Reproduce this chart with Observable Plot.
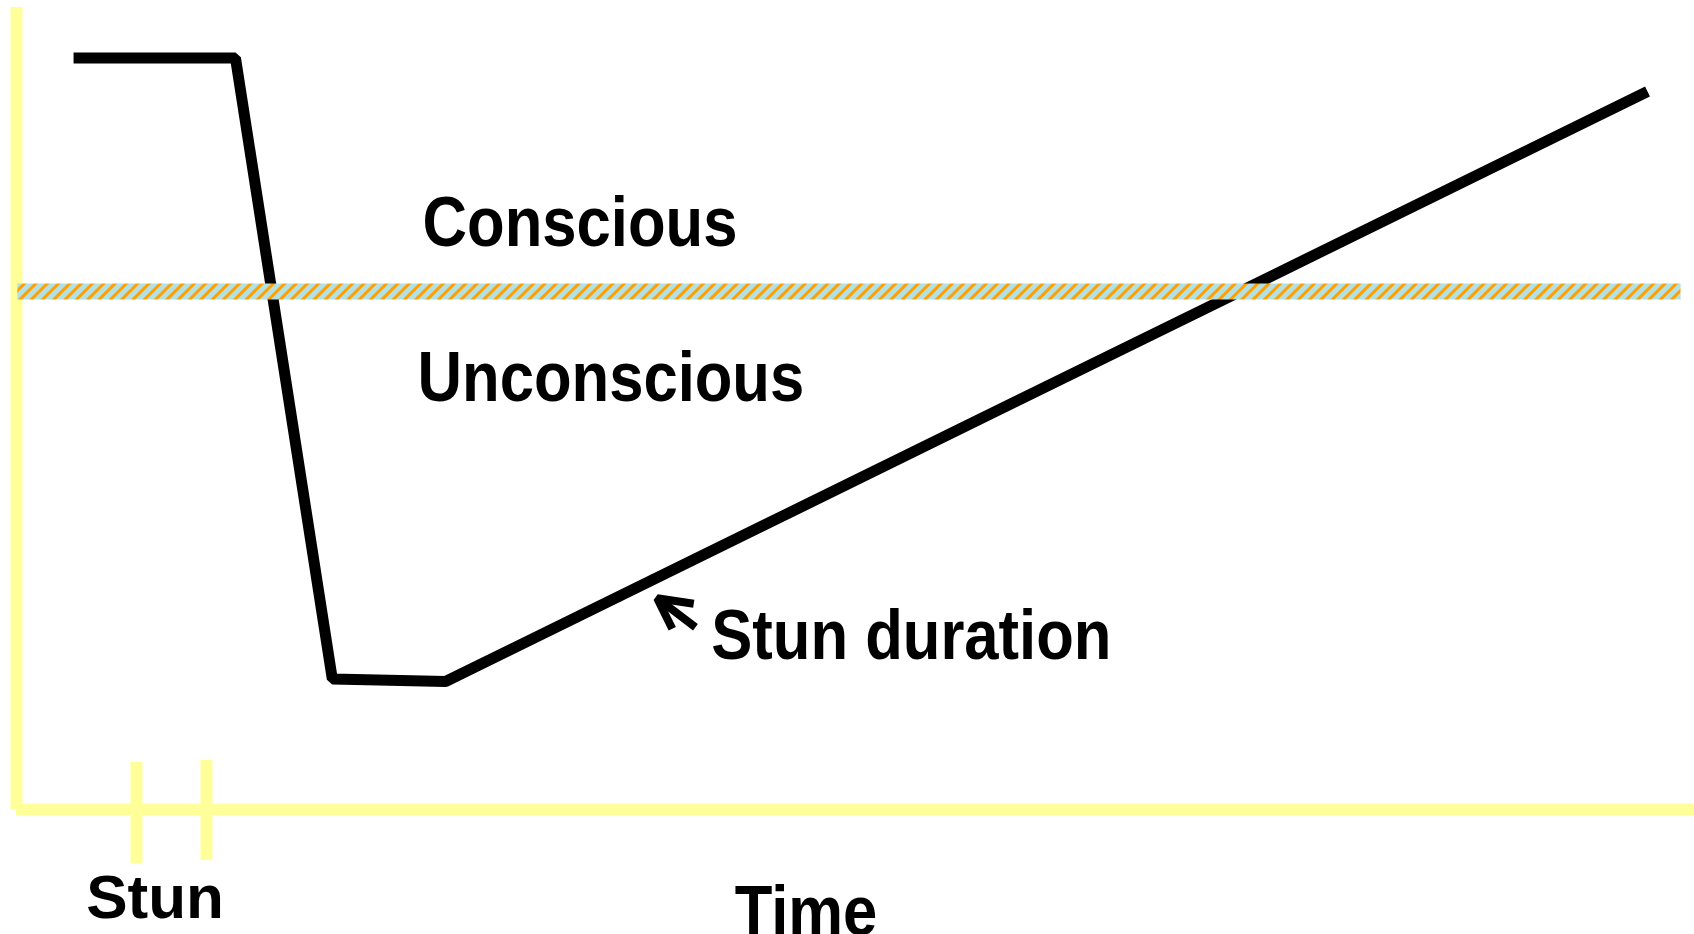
<!DOCTYPE html>
<html>
<head>
<meta charset="utf-8">
<script src="https://cdn.jsdelivr.net/npm/d3@7"></script>
<script src="https://cdn.jsdelivr.net/npm/@observablehq/plot@0.6"></script>
<style>
  html, body { margin: 0; padding: 0; background: #fff; overflow: hidden; }
  #chart svg { display: block; }
</style>
</head>
<body>
<div id="chart"></div>
<script>
// Stun curve: time (0-100) vs level of consciousness (0-100)
const curveTime  = [3.4, 13.05, 18.82, 25.57, 97.2];
const curveLevel = [93.7, 93.7, 16.27, 15.96, 89.53];

// Conscious / unconscious threshold
const thresholdLevel = 64.6;
const thresholdStart = 0.08;
const thresholdEnd = 99.2;

// Axis extents
const axisTimeMax = 100;
const axisLevelMax = 100;

// Stun ticks on the time axis
const stunTicks = [7.15, 11.32];
const stunTickTop = [5.86, 6.11];
const stunTickBottom = [-6.73, -6.36];

// Labels
const labels = ["Conscious", "Unconscious", "Stun duration", "Time"];
const labelTime = [24.2, 23.9, 41.4, 42.8];
const labelLevel = [70.3, 50.9, 18.8, -15.7];
const stunLabel = ["Stun"];
const stunLabelTime = [4.15];
const stunLabelLevel = [-13.5];

// Arrow pointing at the recovery line (head: barb, tip, barb; shaft: tip, tail)
const arrowHeadTime  = [40.36, 38.18, 39.08];
const arrowHeadLevel = [25.65, 26.35, 22.53];
const arrowShaftTime  = [38.18, 40.46];
const arrowShaftLevel = [26.35, 22.73];

const curve = curveTime.map((t, i) => ({t, level: curveLevel[i]}));
const ticks = stunTicks.map((t, i) => ({t, top: stunTickTop[i], bottom: stunTickBottom[i]}));
const labelData = labels.map((text, i) => ({text, t: labelTime[i], level: labelLevel[i]}));
const stunData = stunLabel.map((text, i) => ({text, t: stunLabelTime[i], level: stunLabelLevel[i]}));
const arrowHead = arrowHeadTime.map((t, i) => ({t, level: arrowHeadLevel[i]}));
const arrowShaft = arrowShaftTime.map((t, i) => ({t, level: arrowShaftLevel[i]}));

const FONT = "'Liberation Sans', Arial, Helvetica, sans-serif";
const AXIS = "#ffff99";

const svg = Plot.plot({
  width: 1694,
  height: 934,
  marginLeft: 16,
  marginRight: 0,
  marginTop: 7,
  marginBottom: 125,
  style: {background: "#fff", fontFamily: FONT},
  x: {domain: [0, axisTimeMax], axis: null},
  y: {domain: [0, axisLevelMax], axis: null},
  marks: [
    // yellow axes
    Plot.ruleX([0], {y1: 0, y2: axisLevelMax, stroke: AXIS, strokeWidth: 12}),
    Plot.ruleY([0], {x1: 0, x2: axisTimeMax, stroke: AXIS, strokeWidth: 12}),
    Plot.ruleX(ticks, {x: "t", y1: "bottom", y2: "top", stroke: AXIS, strokeWidth: 12}),
    // stun curve
    Plot.line(curve, {x: "t", y: "level", stroke: "#000", strokeWidth: 11,
      strokeLinejoin: "miter", strokeLinecap: "butt", curve: "linear"}),
    // threshold band
    Plot.ruleY([thresholdLevel], {x1: thresholdStart, x2: thresholdEnd,
      stroke: "url(#hatch)", strokeWidth: 16}),
    // arrow
    Plot.line(arrowHead, {x: "t", y: "level", stroke: "#000", strokeWidth: 8,
      strokeLinejoin: "miter", strokeLinecap: "butt"}),
    Plot.line(arrowShaft, {x: "t", y: "level", stroke: "#000", strokeWidth: 8,
      strokeLinecap: "butt"}),
    // labels
    Plot.text(labelData, {x: "t", y: "level", text: "text", textAnchor: "start",
      lineAnchor: "bottom", fontSize: 70, fontWeight: "bold", fill: "#000",
      fontFamily: FONT}),
    Plot.text(stunData, {x: "t", y: "level", text: "text", textAnchor: "start",
      lineAnchor: "bottom", fontSize: 62, fontWeight: "bold", fill: "#000",
      fontFamily: FONT})
  ]
});

// hatch pattern for the threshold band
const defs = d3.select(svg).insert("defs", ":first-child");
const pat = defs.append("pattern")
  .attr("id", "hatch")
  .attr("patternUnits", "userSpaceOnUse")
  .attr("width", 8).attr("height", 8)
  .attr("patternTransform", "rotate(45)");
pat.append("rect").attr("width", 8).attr("height", 8).attr("fill", "#b3e0e3");
pat.append("rect").attr("width", 3).attr("height", 8).attr("fill", "#ffa000");

// horizontally condense the tall labels
const tall = new Set(labels);
svg.querySelectorAll("text").forEach((t) => {
  if (!tall.has(t.textContent.trim())) return;
  const tr = t.getAttribute("transform") || "";
  const x = parseFloat(t.getAttribute("x")) || 0;
  t.setAttribute("transform", `${tr} translate(${x},0) scale(0.88,1) translate(${-x},0)`);
});

document.getElementById("chart").appendChild(svg);
</script>
</body>
</html>
